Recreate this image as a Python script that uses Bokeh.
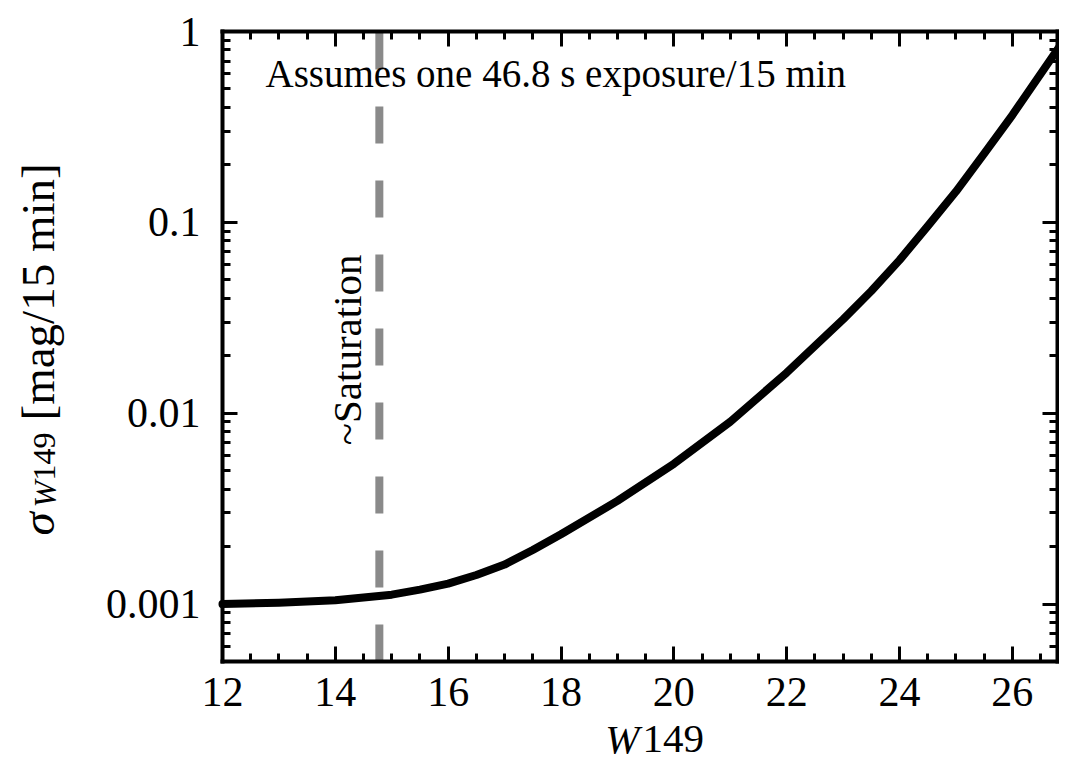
import math
from bokeh.plotting import figure
from bokeh.models import (Range1d, FixedTicker, LinearAxis, LogAxis, Label,
                          CustomJSTickFormatter)
from bokeh.embed import file_html
from bokeh.resources import INLINE

# ---- data ----
w149 = [12, 13, 14, 15, 15.5, 16, 16.5, 17, 17.5, 18, 19, 20, 21, 22, 23,
        23.5, 24, 24.5, 25, 25.5, 26, 26.9]
sigma_w149 = [0.00100, 0.001016, 0.001047, 0.00112, 0.00119, 0.00128,
              0.00142, 0.00161, 0.00192, 0.00232, 0.00347, 0.00543, 0.00902,
              0.0163, 0.0310, 0.0437, 0.0634, 0.0955, 0.145, 0.229, 0.365,
              0.889]
saturation_mag = 14.78

x_major_ticks = [12, 14, 16, 18, 20, 22, 24, 26]
x_minor_ticks = [12 + 0.5 * i for i in range(30)]
y_major_ticks = [0.001, 0.01, 0.1, 1]
y_minor_ticks = [m * 1e-4 for m in range(5, 10)] + \
                [m * 10.0 ** k for k in (-3, -2, -1) for m in range(2, 10)]

annotation_text = "Assumes one 46.8 s exposure/15 min"
saturation_text = "~Saturation"

# axes box limits (data)
X0, X1 = 12.0, 26.8
Y0, Y1 = 5e-4, 1.0

# ---- layout (pixels) ----
W, H = 1059, 760
BOX_L, BOX_R, BOX_T, BOX_B = 222, 1057, 31, 661

ppu = (BOX_R - BOX_L) / (X1 - X0)
xr = Range1d(X0 - BOX_L / ppu, X1 + (W - BOX_R) / ppu)
ppd = (BOX_B - BOX_T) / (math.log10(Y1) - math.log10(Y0))
yr = Range1d(Y0 / 10 ** ((H - BOX_B) / ppd), Y1 * 10 ** (BOX_T / ppd))

SERIF = "Liberation Serif"

p = figure(width=W, height=H, output_backend="svg", toolbar_location=None,
           x_range=xr, y_range=yr, y_axis_type="log",
           x_axis_location=None, y_axis_location=None, min_border=0)
p.grid.visible = False
p.outline_line_color = None
p.background_fill_color = "white"
p.border_fill_color = "white"

xt = FixedTicker(ticks=x_major_ticks, minor_ticks=x_minor_ticks)
yt = FixedTicker(ticks=y_major_ticks, minor_ticks=y_minor_ticks)

bottom_axis = LinearAxis(ticker=xt, fixed_location=Y0, bounds=(X0, X1))
top_axis = LinearAxis(ticker=xt, fixed_location=Y1, bounds=(X0, X1))
left_axis = LogAxis(ticker=yt, fixed_location=X0, bounds=(Y0, Y1),
                    formatter=CustomJSTickFormatter(code="return tick.toString();"))
right_axis = LogAxis(ticker=yt, fixed_location=X1, bounds=(Y0, Y1))
p.add_layout(bottom_axis, "below")
p.add_layout(top_axis, "above")
p.add_layout(left_axis, "left")
p.add_layout(right_axis, "right")

for ax in [bottom_axis, top_axis, left_axis, right_axis]:
    ax.axis_line_width = 4
    ax.axis_line_color = "black"
    ax.axis_line_cap = "square"
    ax.major_tick_in = 15
    ax.major_tick_out = 0
    ax.minor_tick_in = 8
    ax.minor_tick_out = 0
    ax.major_tick_line_width = 3
    ax.minor_tick_line_width = 3
    ax.major_tick_line_color = "black"
    ax.minor_tick_line_color = "black"
    ax.major_label_text_font = SERIF
    ax.major_label_text_font_size = "42px"
    ax.major_label_text_color = "black"

for ax in [top_axis, right_axis]:
    ax.major_label_text_font_size = "0px"
    ax.major_label_standoff = 0
    ax.formatter = CustomJSTickFormatter(code="return '';")

bottom_axis.major_label_standoff = 16
left_axis.major_label_standoff = 22

# dashed saturation line
p.line([saturation_mag, saturation_mag], [Y0, Y1], line_width=8,
       line_color="#8a8a8a", line_dash="37 37")

# main curve
p.line(w149, sigma_w149, line_width=8, line_color="black",
       line_join="round", line_cap="round")

# annotations inside the box
p.add_layout(Label(x=12.762, y=0.60, text=annotation_text,
                   text_font=SERIF, text_font_size="39px",
                   text_color="black", text_baseline="alphabetic",
                   text_align="left"))
p.add_layout(Label(x=14.2, y=0.0068, text=saturation_text, angle=math.pi / 2,
                   text_font=SERIF, text_font_size="41px",
                   text_color="black", text_baseline="alphabetic",
                   text_align="left"))

# x-axis label: italic W + roman 149
p.add_layout(Label(x=639, y=22, x_units="screen", y_units="screen", text="W",
                   text_font=SERIF, text_font_size="41px",
                   text_font_style="italic", text_color="black",
                   text_align="right", text_baseline="alphabetic"))
p.add_layout(Label(x=642, y=22, x_units="screen", y_units="screen", text="149",
                   text_font=SERIF, text_font_size="41px", text_color="black",
                   text_align="left", text_baseline="alphabetic"))

# y-axis label: sigma_{W149} [mag/15 min], rotated
rot = math.pi / 2
p.add_layout(Label(x=37, y=225, x_units="screen", y_units="screen", text="σ",
                   angle=rot, text_font=SERIF, text_font_size="47px",
                   text_font_style="italic", text_color="black",
                   text_align="left", text_baseline="alphabetic"))
p.add_layout(Label(x=44, y=253, x_units="screen", y_units="screen", text="W",
                   angle=rot, text_font=SERIF, text_font_size="32px",
                   text_font_style="italic", text_color="black",
                   text_align="left", text_baseline="alphabetic"))
p.add_layout(Label(x=44, y=280, x_units="screen", y_units="screen", text="149",
                   angle=rot, text_font=SERIF, text_font_size="32px",
                   text_color="black",
                   text_align="left", text_baseline="alphabetic"))
p.add_layout(Label(x=37, y=340, x_units="screen", y_units="screen",
                   text="[mag/15 min]",
                   angle=rot, text_font=SERIF, text_font_size="47px",
                   text_color="black",
                   text_align="left", text_baseline="alphabetic"))

open("out.html", "w").write(file_html(p, INLINE))
